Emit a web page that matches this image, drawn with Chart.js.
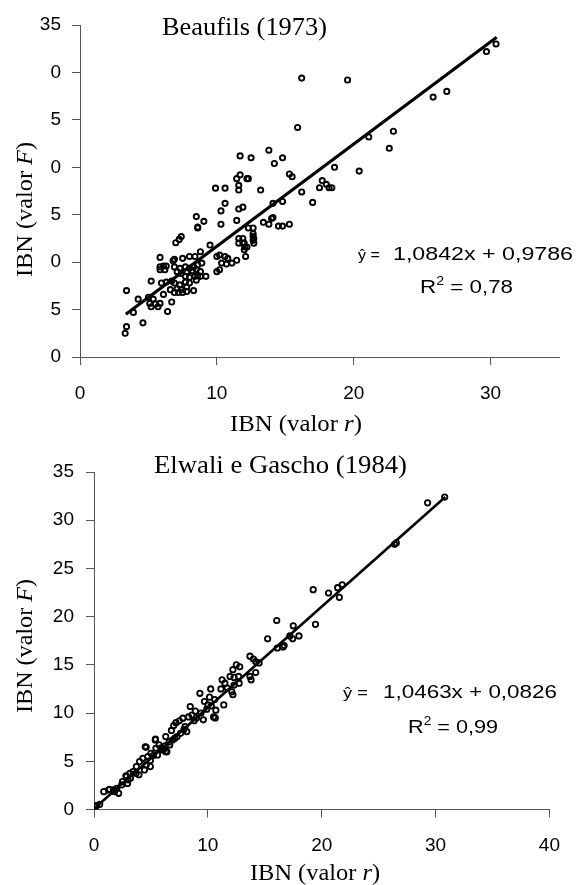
<!DOCTYPE html>
<html><head><meta charset="utf-8">
<script src="https://cdn.jsdelivr.net/npm/chart.js@4"></script>
<style>
html,body{margin:0;padding:0;background:#fff;width:577px;height:885px;overflow:hidden}
.box{position:absolute;left:0}
canvas{display:block}
</style></head><body>
<div class="box" style="top:0"><canvas id="c1" width="577" height="445"></canvas></div>
<div class="box" style="top:440px"><canvas id="c2" width="577" height="445"></canvas></div>
<script>
// ---------- DATA ----------
const topTitle = 'Beaufils (1973)';
const bottomTitle = 'Elwali e Gascho (1984)';
const topYTickLabels = ['0','5','0','5','0','5','0','35'];     // as printed (values 0..35 step 5)
const bottomYTickLabels = ['0','5','10','15','20','25','30','35'];
const topEquation = '1,0842x + 0,9786';
const topR2 = '0,78';
const bottomEquation = '1,0463x + 0,0826';
const bottomR2 = '0,99';

// Beaufils (1973): IBN valor r (x) vs IBN valor F (y)
const topR = [16.2,19.55,15.9,13.8,12.5,11.7,14.8,14.2,12.3,11.7,11.45,12.2,11.6,11.6,15.3,15.5,18.6,20.4,13.2,11.9,11.6,14.1,14.8,16.2,17.0,17.5,17.7,18.0,18.2,18.4,21.1,22.6,22.9,25.8,26.8,29.7,30.4,
13.4,13.8,14.0,14.1,14.5,14.8,15.3,12.3,12.65,12.65,12.65,12.65,11.9,12.05,
9.9,10.6,10.6,10.3,8.5,9.05,8.6,8.6,10.3,11.45,7.4,7.25,7.0,9.5,11.6,11.9,11.6,12.0,12.2,12.0,12.1,11.45,
8.8,8.4,8.0,7.5,5.85,6.9,6.8,10.0,10.2,10.6,10.8,10.35,10.7,11.1,10.0,10.2,
5.85,6.1,6.3,5.85,6.2,6.9,7.3,7.7,8.0,8.3,8.6,8.9,7.1,7.4,7.8,8.2,8.5,8.8,9.2,8.8,8.4,8.0,7.7,
5.2,5.95,6.3,6.7,6.9,7.3,7.1,7.4,7.8,7.7,8.0,8.5,8.6,6.6,6.9,7.2,7.5,7.8,8.3,6.1,
3.4,4.25,5.0,5.35,5.1,5.5,5.85,5.2,5.7,6.7,6.4,3.9,4.6,3.4,3.3,12.7,12.7];
const topF = [29.4,29.2,24.2,21.8,21.0,21.2,21.0,20.4,18.8,19.2,18.8,18.8,18.1,17.6,19.3,19.0,20.0,19.6,17.6,15.8,15.6,16.2,16.4,17.4,16.3,17.85,18.6,18.2,17.85,17.85,23.2,22.0,23.8,27.4,28.0,32.2,33.0,
14.2,14.0,14.6,14.7,13.8,13.8,14.0,13.6,13.6,13.0,12.7,12.3,12.0,11.6,
17.8,17.8,16.2,15.4,14.8,14.3,13.7,13.6,14.0,14.4,12.7,12.4,12.05,11.8,12.5,12.5,12.0,12.0,11.6,11.3,10.6,10.2,
11.1,10.6,10.6,10.4,10.5,10.3,10.15,10.6,10.75,10.6,10.4,9.9,9.8,9.9,9.0,9.2,
9.5,9.6,9.6,9.2,9.2,9.5,9.35,9.5,9.35,9.5,9.7,9.9,9.0,8.8,9.0,9.1,9.25,9.0,8.5,8.5,8.5,8.4,8.5,
8.0,7.8,7.9,8.0,7.8,7.6,7.2,7.1,7.4,7.9,7.8,8.1,8.6,7.1,6.8,6.8,6.8,6.9,7.0,6.6,
7.0,6.1,6.3,6.1,5.65,5.6,5.65,5.3,5.3,5.8,4.8,4.7,3.6,3.2,2.5,12.5,12.0];
const topTrendR = [3.35, 30.45];
const topTrendF = [4.5, 33.7];

// Elwali e Gascho (1984)
const bottomR = [0.03,0.2,0.5,0.14,0.86,1.37,1.29,1.8,2.17,1.72,2.0,2.5,2.43,2.95,2.8,2.86,3.0,3.2,3.15,3.43,3.7,3.95,3.72,4.43,4.0,4.29,4.58,4.95,4.95,4.72,5.0,4.5,4.58,5.4,5.38,5.44,5.58,5.72,6.0,6.3,6.4,6.25,6.1,6.3,6.65,6.9,7.3,7.6,8.0,8.15,6.8,7.0,7.2,7.5,7.8,8.3,8.6,8.45,9.6,9.7,10.0,10.15,9.3,10.25,10.6,10.3,10.7,10.65,10.5,11.4,11.15,11.7,12.1,12.2,11.25,11.5,11.95,12.3,12.75,12.7,12.2,12.5,12.8,12.3,13.7,14.0,14.2,14.5,13.7,13.8,14.2,15.25,16.1,16.6,16.7,16.05,17.5,17.2,17.45,18.0,19.25,19.45,20.6,21.4,21.8,21.55,26.4,26.55,29.3,30.8,
5.2,5.9,6.6,7.1,7.9,8.8,9.0,9.4,8.9,9.9];
const bottomF = [0.3,0.4,0.54,0.3,1.85,2.1,2.03,1.85,1.68,2.03,2.2,2.9,2.55,2.7,3.5,3.41,3.06,3.25,3.76,3.93,3.75,3.6,4.45,4.1,4.97,5.31,4.62,4.45,5.07,5.49,5.83,6.5,6.46,7.3,7.22,6.35,5.66,6.7,6.19,6.0,6.0,6.6,6.2,7.56,6.7,7.2,7.56,7.9,8.6,8.08,8.2,8.7,9.0,9.2,9.47,9.6,9.8,10.68,9.3,11.2,10.85,11.65,12.05,12.5,11.4,10.75,10.3,9.5,9.6,10.85,12.5,12.6,12.2,11.9,13.45,13.1,13.8,12.9,13.1,13.8,14.5,15.0,14.8,13.7,15.9,15.6,15.35,15.2,13.8,13.45,14.2,17.7,16.75,16.85,17.0,19.6,19.05,18.0,17.7,18.0,22.8,19.2,22.45,23.0,23.3,22.0,27.5,27.65,31.8,32.4,
5.6,6.4,7.0,7.4,8.3,9.2,9.5,10.0,10.2,10.4];
const bottomTrendR = [0.05, 30.85];
const bottomTrendF = [0.13, 32.4];

// ---------- HELPERS ----------
const SANS = '"Liberation Sans", Arial, sans-serif';
const SERIF = '"Liberation Serif", "Times New Roman", serif';
const AX = '#555';
const pts = (xs, ys) => xs.map((x, i) => ({x, y: ys[i]}));

// draw a row of text parts; fit total width to [x0,x1]
function drawParts(ctx, parts, x0, x1, baseline) {
  let w = 0;
  parts.forEach(p => { ctx.font = p.font; p.w = ctx.measureText(p.t).width; w += p.w; });
  const sx = (x1 - x0) / w;
  ctx.save();
  ctx.translate(x0, baseline);
  ctx.scale(sx, 1);
  ctx.fillStyle = '#000';
  ctx.textBaseline = 'alphabetic';
  ctx.textAlign = 'left';
  let x = 0;
  parts.forEach(p => { ctx.font = p.font; ctx.fillText(p.t, x, p.dy || 0); x += p.w; });
  ctx.restore();
}
function drawVertical(ctx, parts, cx, cy, len) {
  let w = 0;
  parts.forEach(p => { ctx.font = p.font; p.w = ctx.measureText(p.t).width; w += p.w; });
  const sx = len / w;
  ctx.save();
  ctx.translate(cx, cy);
  ctx.rotate(-Math.PI / 2);
  ctx.scale(sx, 1);
  ctx.fillStyle = '#000';
  ctx.textBaseline = 'alphabetic';
  ctx.textAlign = 'left';
  let x = -w / 2;
  parts.forEach(p => { ctx.font = p.font; ctx.fillText(p.t, x, 0); x += p.w; });
  ctx.restore();
}

function makeChart(id, cfg) {
  const textPlugin = {
    id: 'txt' + id,
    afterDraw(chart) {
      const ctx = chart.ctx;
      const T = cfg.text;
      drawParts(ctx, [{t: cfg.title, font: '26px ' + SERIF}], T.title[0], T.title[1], T.title[2]);
      drawParts(ctx, [
        {t: 'IBN (valor ', font: '24px ' + SERIF},
        {t: 'r', font: 'italic 24px ' + SERIF},
        {t: ')', font: '24px ' + SERIF}], T.xt[0], T.xt[1], T.xt[2]);
      drawVertical(ctx, [
        {t: 'IBN (valor ', font: '24px ' + SERIF},
        {t: 'F', font: 'italic 24px ' + SERIF},
        {t: ')', font: '24px ' + SERIF}], T.yt[0], T.yt[1], T.yt[2]);
      drawParts(ctx, [{t: 'ŷ =', font: '15px ' + SANS}], T.yhat[0], T.yhat[1], T.yhat[2]);
      drawParts(ctx, [{t: cfg.eq, font: '19px ' + SANS}], T.eq[0], T.eq[1], T.eq[2]);
      drawParts(ctx, [
        {t: 'R', font: '19px ' + SANS},
        {t: '2', font: '12px ' + SANS, dy: -8},
        {t: ' = ' + cfg.r2, font: '19px ' + SANS}], T.r2[0], T.r2[1], T.r2[2]);
    }
  };
  return new Chart(document.getElementById(id), {
    type: 'scatter',
    data: {
      datasets: [
        {data: pts(cfg.xs, cfg.ys), pointRadius: cfg.pr, pointBorderWidth: cfg.pbw, pointBackgroundColor: 'rgba(0,0,0,0)', pointBorderColor: '#000', showLine: false, order: 2},
        {type: 'line', data: pts(cfg.tx, cfg.ty), borderColor: '#000', borderWidth: cfg.lw, pointRadius: 0, fill: false, order: 1}
      ]
    },
    options: {
      responsive: false, animation: false, devicePixelRatio: 1, events: [],
      layout: {padding: {left: 0, right: cfg.padR, top: cfg.padT, bottom: 0}},
      plugins: {legend: {display: false}, tooltip: {enabled: false}, title: {display: false}},
      scales: {
        x: {
          type: 'linear', min: 0, max: cfg.xmax,
          ticks: {stepSize: 10, includeBounds: false, color: '#000', font: {family: SANS, size: 19}, padding: 17, maxRotation: 0, autoSkip: false},
          grid: {display: true, drawOnChartArea: false, drawTicks: true, tickLength: 8, color: AX, lineWidth: 1},
          border: {display: true, color: AX, width: 1},
          afterFit(s) { s.height = cfg.xh; }
        },
        y: {
          type: 'linear', min: 0, max: 35,
          ticks: {stepSize: 5, color: '#000', font: {family: SANS, size: 19}, padding: cfg.ypad, autoSkip: false,
            callback: v => cfg.ylabels[Math.round(v / 5)]},
          grid: {display: true, drawOnChartArea: false, drawTicks: true, tickLength: 8, color: AX, lineWidth: 1},
          border: {display: true, color: AX, width: 1},
          afterFit(s) { s.width = cfg.yw; }
        }
      }
    },
    plugins: [textPlugin]
  });
}

makeChart('c1', {
  xs: topR, ys: topF, tx: topTrendR, ty: topTrendF, ylabels: topYTickLabels,
  title: topTitle, eq: topEquation, r2: topR2,
  xmax: 35, yw: 80, xh: 88, padR: 18, padT: 25, ypad: 11, pr: 2.6, pbw: 1.9, lw: 3.2,
  text: {title: [162, 327, 35], xt: [230, 362, 431], yt: [32, 209.5, 135],
         yhat: [358, 380, 260], eq: [393, 573, 260], r2: [420, 513, 293]}
});
makeChart('c2', {
  xs: bottomR, ys: bottomF, tx: bottomTrendR, ty: bottomTrendF, ylabels: bottomYTickLabels,
  title: bottomTitle, eq: bottomEquation, r2: bottomR2,
  xmax: 40, yw: 94, xh: 75.5, padR: 17, padT: 32, ypad: 12, pr: 2.7, pbw: 1.8, lw: 2.6,
  text: {title: [154, 407, 33], xt: [250, 380, 440], yt: [32, 206, 134],
         yhat: [343, 368, 258], eq: [383, 557, 258], r2: [408, 498, 292.7]}
});
</script></body></html>
